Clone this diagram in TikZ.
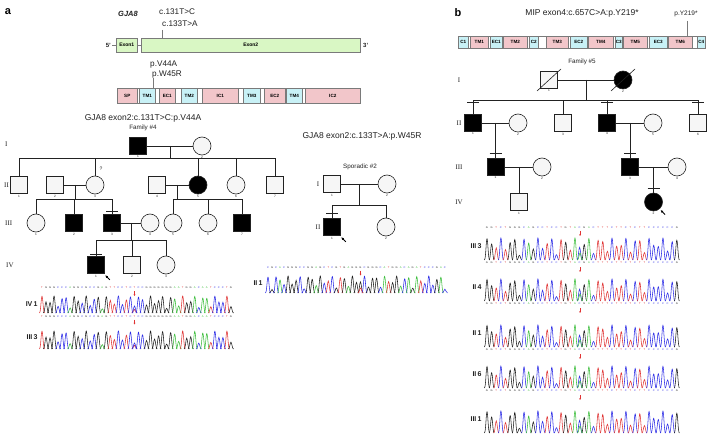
\documentclass[tikz,border=0pt]{standalone}
\usepackage{fontspec}
\setmainfont{Liberation Sans}
\newfontfamily\romanfam{Liberation Serif}
\usetikzlibrary{arrows.meta,calc}

\definecolor{exong}{HTML}{D9F7C4}
\definecolor{pinkseg}{HTML}{F2C6CA}
\definecolor{cyanseg}{HTML}{C8F1F6}
\definecolor{segline}{HTML}{7A7A7A}
\definecolor{baseA}{HTML}{3DBE3D}
\definecolor{baseC}{HTML}{2B2BE6}
\definecolor{baseG}{HTML}{1E1E1E}
\definecolor{baseT}{HTML}{E03434}
\definecolor{ink}{HTML}{222222}
\definecolor{openfill}{HTML}{F6F6F6}

\tikzset{
  ped/.style={line width=0.6pt, draw=ink},
  male/.style={ped, rectangle, minimum size=17pt, inner sep=0pt, fill=openfill},
  female/.style={ped, circle, minimum size=18pt, inner sep=0pt, fill=openfill},
  aff/.style={fill=black},
  pline/.style={line width=0.6pt, draw=ink},
  idnum/.style={font=\fontsize{3.2}{3.2}\selectfont, text=ink, inner sep=0.8pt},
  num/.style={label={[idnum]below:#1}},
  gen/.style={font=\romanfam\fontsize{7}{7}\selectfont, text=ink},
  title/.style={font=\fontsize{8.5}{8.5}\selectfont, text=ink},
  small/.style={font=\fontsize{6.3}{6.3}\selectfont, text=ink},
  exonbox/.style={draw=segline, fill=exong, minimum height=14pt, inner sep=0pt,
    font=\bfseries\fontsize{5}{5}\selectfont, line width=0.5pt, anchor=west},
  segbox/.style={draw=segline, minimum height=#1, inner sep=0pt,
    font=\bfseries\fontsize{4.6}{4.6}\selectfont, line width=0.6pt, anchor=west},
  pointer/.style={draw=segline, line width=1pt},
  seqlet/.style={font=\fontsize{2.6}{2.6}\selectfont, inner sep=0pt},
  tracelab/.style={font=\bfseries\fontsize{7}{7}\selectfont, text=ink, anchor=east},
  panel/.style={font=\bfseries\fontsize{11}{11}\selectfont},
  proband/.style={-{Latex[length=2.6pt,width=2.6pt]}, line width=0.9pt, draw=black},
}

% sequencing trace: first peak x, spacing, baseline y, peak height, phase, list of bases
\newcommand{\chrom}[6]{%
  \foreach \b [count=\i] in #6 {%
    \pgfmathsetmacro\px{#1+(\i-1)*#2}%
    \pgfmathsetmacro\ph{#4*(0.2+0.8*abs(sin(\i*67+#5)))}%
    \draw[draw=base\b, line width=0.55pt] (\px-2.6,#3) .. controls (\px-1.2,#3) and (\px-0.9,#3-\ph) .. (\px,#3-\ph) .. controls (\px+0.9,#3-\ph) and (\px+1.2,#3) .. (\px+2.6,#3);
  }}
% second peak at a heterozygous position: x, baseline, height, colour
\newcommand{\extrapeak}[4]{%
  \draw[draw=#4, line width=0.55pt] (#1-2.6,#2) .. controls (#1-1.2,#2) and (#1-0.9,#2-#3) .. (#1,#2-#3) .. controls (#1+0.9,#2-#3) and (#1+1.2,#2) .. (#1+2.6,#2);}
% base calls printed along a trace: first x, spacing, y, list of bases
\newcommand{\seqrow}[4]{%
  \foreach \b [count=\i] in #4 {\node[seqlet, text=base\b] at ({#1+(\i-1)*#2},#3) {\b};}}
% red arrow at the variant position
\newcommand{\mutmark}[2]{\draw[draw=baseT, line width=0.5pt, -{Stealth[length=1.8pt,width=1.8pt]}] (#1,#2) -- (#1,#2+5);}
% sequenced-individual bar above a symbol: node, distance above its top
\newcommand{\seqbar}[2]{\draw[pline] ($(#1.north)+(-6,-#2)$) -- ($(#1.north)+(6,-#2)$);}
% proband arrow at the lower right of a symbol
\newcommand{\probarrow}[1]{\draw[proband] ($(#1.south east)+(5,6)$) -- ($(#1.south east)+(0.5,1.5)$);}
% deceased stroke
\newcommand{\deceased}[1]{\draw[pline] ($(#1.center)+(-12,11)$) -- ($(#1.center)+(12,-11)$);}

\def\seqgja{T,G,G,G,C,C,C,A,G,G,C,G,C,C,G,A,G,T,T,C,C,T,C,T,C,C,G,G,G,G,G,G,G,A,A,T,G,G,A,C,A,A,T,C,C,C,T,G}
\def\seqspor{C,G,C,A,C,G,G,G,C,C,G,G,A,G,C,T,C,G,T,G,A,G,G,G,C,G,G,G,C,A,T,G,G,A,C,A,G,A,T,C,C,C,G,A,C}
\def\seqmip{G,G,T,C,T,G,G,G,C,A,G,C,C,T,C,C,T,G,T,A,C,G,A,C,T,T,T,C,T,T,C,T,C,T,T,C,C,C,C,C,C,G}

\begin{document}
\begin{tikzpicture}[x=1pt,y=-1pt]
\useasboundingbox (0,0) rectangle (708,435);
\fill[white] (0,0) rectangle (708,435);

%================ panel a: GJA8 ================
\node[panel] at (8,12) {a};
\node[font=\bfseries\itshape\fontsize{7.5}{7.5}\selectfont, text=ink] at (128,14) {GJA8};
\node[font=\fontsize{8.2}{8.2}\selectfont, text=ink, anchor=west, inner sep=0pt] at (159,12) {c.131T>C};
\node[font=\fontsize{8.2}{8.2}\selectfont, text=ink, anchor=west, inner sep=0pt] at (162,24) {c.133T>A};

% gene structure
\node[exonbox, minimum width=21pt] (ex1) at (116,45) {Exon1};
\node[exonbox, minimum width=219pt] (ex2) at (141,45) {Exon2};
\node[font=\bfseries\fontsize{6}{6}\selectfont, text=ink, anchor=east, inner sep=1pt] (five) at (112,45) {5'};
\node[font=\bfseries\fontsize{6}{6}\selectfont, text=ink, anchor=west, inner sep=1pt] (three) at (362,45) {3'};
\draw[segline, line width=0.5pt] (five.east) -- (ex1.west);
\draw[segline, line width=0.5pt] (ex1.east) -- (ex2.west);
\coordinate (cmut) at (162,30);
\draw[pointer] (cmut) -- (cmut |- ex2.north);

% protein domains
\node[font=\fontsize{8.2}{8.2}\selectfont, text=ink, anchor=west, inner sep=0pt] at (150,65) {p.V44A};
\node[font=\fontsize{8.2}{8.2}\selectfont, text=ink, anchor=west, inner sep=0pt] at (152,75) {p.W45R};
\draw[segline, line width=0.4pt] (117,88) rectangle (360,103);
\foreach \xa/\xb/\col/\lab in {117/137/pinkseg/SP, 139/155/cyanseg/TM1, 159/175/pinkseg/EC1,
  181/197/cyanseg/TM2, 202/238/pinkseg/IC1, 243/260/cyanseg/TM3, 264/285/pinkseg/EC2,
  286/302/cyanseg/TM4, 305/360/pinkseg/IC2}
  \node[segbox=15pt, fill=\col, minimum width={(\xb-\xa)*1pt}] (pa\lab) at (\xa,95.5) {\lab};
\coordinate (pmut) at (153,78);
\draw[pointer] (pmut) -- (pmut |- paTM1.north);

%---------------- Family #4 ----------------
\node[title] at (143,118) {GJA8 exon2:c.131T>C:p.V44A};
\node[small] at (143,128) {Family \#4};
\node[gen, anchor=west, inner sep=0pt] at (5,144) {I};
\node[gen, anchor=west, inner sep=0pt] at (4,185) {II};
\node[gen, anchor=west, inner sep=0pt] at (5,223) {III};
\node[gen, anchor=west, inner sep=0pt] at (6,265) {IV};

\node[male,aff,num=1] (f4I1) at (138,146) {};
\node[female,num=2] (f4I2) at (202,146) {};
\draw[pline] (f4I1) -- (f4I2);
\coordinate (f4m1) at (170,146);
\coordinate (f4s1) at (170,158);
\draw[pline] (f4m1) -- (f4s1);

\node[male,num=1] (f4II1) at (19,185) {};
\node[male,num=2] (f4II2) at (55,185) {};
\node[female,num=3] (f4II3) at (95,185) {};
\node[male,num=4] (f4II4) at (157,185) {};
\node[female,aff,num=5] (f4II5) at (198,185) {};
\node[female,num=6] (f4II6) at (236,185) {};
\node[male,num=7] (f4II7) at (275,185) {};
\node[font=\fontsize{5}{5}\selectfont, text=ink] at (101,169) {?};
\draw[pline] (f4II1.north |- f4s1) -- (f4II7.north |- f4s1);
\foreach \n in {f4II1,f4II3,f4II5,f4II6,f4II7} \draw[pline] (\n.north) -- (\n.north |- f4s1);
\draw[pline] (f4II2) -- (f4II3);
\draw[pline] (f4II4) -- (f4II5);
\coordinate (f4m2) at (75,185);   \coordinate (f4s2) at (75,199);
\coordinate (f4m3) at (177.5,185); \coordinate (f4s3) at (177.5,199);
\draw[pline] (f4m2) -- (f4s2);
\draw[pline] (f4m3) -- (f4s3);

\node[female,num=1] (f4III1) at (36,223) {};
\node[male,aff,num=2] (f4III2) at (74,223) {};
\node[male,aff,num=3] (f4III3) at (112,223) {};
\node[female,num=4] (f4III4) at (150,223) {};
\node[female,num=5] (f4III5) at (173,223) {};
\node[female,num=6] (f4III6) at (208,223) {};
\node[male,aff,num=7] (f4III7) at (242,223) {};
\draw[pline] (f4III1.north |- f4s2) -- (f4III3.north |- f4s2);
\foreach \n in {f4III1,f4III2,f4III3} \draw[pline] (\n.north) -- (\n.north |- f4s2);
\draw[pline] (f4III5.north |- f4s3) -- (f4III7.north |- f4s3);
\foreach \n in {f4III5,f4III6,f4III7} \draw[pline] (\n.north) -- (\n.north |- f4s3);
\seqbar{f4III3}{2.8}
\draw[pline] (f4III3) -- (f4III4);
\coordinate (f4m4) at (131,223); \coordinate (f4s4) at (131,240);
\draw[pline] (f4m4) -- (f4s4);

\node[male,aff,num=1] (f4IV1) at (96,265) {};
\node[male,num=2] (f4IV2) at (132,265) {};
\node[female,num=3] (f4IV3) at (166,265) {};
\draw[pline] (f4IV1.north |- f4s4) -- (f4IV3.north |- f4s4);
\foreach \n in {f4IV1,f4IV2,f4IV3} \draw[pline] (\n.north) -- (\n.north |- f4s4);
\seqbar{f4IV1}{2.2}
\probarrow{f4IV1}

% traces, family #4
\seqrow{42}{4.02}{288}{\seqgja}
\chrom{42}{4.02}{313}{17}{11}{\seqgja}
\extrapeak{134.5}{313}{7}{baseC}
\seqrow{42}{4.02}{316.5}{\seqgja}
\mutmark{134.5}{291}
\mutmark{134.5}{319.5}
\chrom{42}{4.02}{349}{18}{11}{\seqgja}
\extrapeak{134.5}{349}{6}{baseC}
\node[tracelab] at (41,304) {IV\,1};
\node[tracelab] at (41,337) {III\,3};

%---------------- Sporadic #2 ----------------
\node[title] at (362,136) {GJA8 exon2:c.133T>A:p.W45R};
\node[small] at (360,167) {Sporadic \#2};
\node[gen] at (318,184) {I};
\node[gen] at (318,227) {II};
\node[male,num=1] (spI1) at (332,184) {};
\node[female,num=2] (spI2) at (387,184) {};
\draw[pline] (spI1) -- (spI2);
\coordinate (spm) at (359.5,184); \coordinate (sps) at (359.5,205);
\draw[pline] (spm) -- (sps);
\node[male,aff,num=1] (spII1) at (332,227) {};
\node[female,num=2] (spII2) at (386,227) {};
\draw[pline] (spII1.north |- sps) -- (spII2.north |- sps);
\foreach \n in {spII1,spII2} \draw[pline] (\n.north) -- (\n.north |- sps);
\seqbar{spII1}{4.5}
\probarrow{spII1}

\seqrow{268}{4.02}{268}{\seqspor}
\mutmark{360.5}{270.5}
\chrom{268}{4.02}{293}{17}{47}{\seqspor}
\extrapeak{360.5}{293}{5}{baseT}
\node[tracelab] at (266,283) {II\,1};

%================ panel b: MIP ================
\node[panel] at (458,13) {b};
\node[title] at (582,13) {MIP exon4:c.657C>A:p.Y219*};
\node[font=\fontsize{6.5}{6.5}\selectfont, text=ink] at (686,14) {p.Y219*};
\draw[segline, line width=0.4pt] (458,36) rectangle (705,48);
\foreach \xa/\xb/\col/\lab in {458/468/cyanseg/C1, 470/488/pinkseg/TM1, 490/502/cyanseg/EC1,
  503/527/pinkseg/TM2, 529/538/cyanseg/C2, 546/568/pinkseg/TM3, 570/587/cyanseg/EC2,
  588/613/pinkseg/TM4, 615/622/cyanseg/C3, 623/647/pinkseg/TM5, 649/667/cyanseg/EC3,
  668/692/pinkseg/TM6, 697/705/cyanseg/C4}
  \node[segbox=12pt, fill=\col, minimum width={(\xb-\xa)*1pt}] (pb\lab) at (\xa,42) {\lab};
\coordinate (bmut) at (687,21);
\draw[segline, line width=0.6pt] (bmut) -- (bmut |- pbTM6.north);

%---------------- Family #5 ----------------
\node[small] at (582,62) {Family \#5};
\node[gen] at (459,80) {I};
\node[gen] at (459,123) {II};
\node[gen] at (459,167) {III};
\node[gen] at (459,202) {IV};

\node[male,num=1] (f5I1) at (549,80) {};
\node[female,aff,num=2] (f5I2) at (623,80) {};
\deceased{f5I1}
\deceased{f5I2}
\draw[pline] (f5I1) -- (f5I2);
\coordinate (f5m1) at (586,80); \coordinate (f5s1) at (586,100);
\draw[pline] (f5m1) -- (f5s1);

\node[male,aff,num=1] (f5II1) at (473,123) {};
\node[female,num=2] (f5II2) at (518,123) {};
\node[male,num=3] (f5II3) at (563,123) {};
\node[male,aff,num=4] (f5II4) at (607,123) {};
\node[female,num=5] (f5II5) at (653,123) {};
\node[male,num=6] (f5II6) at (698,123) {};
\draw[pline] (f5II1.north |- f5s1) -- (f5II6.north |- f5s1);
\foreach \n in {f5II1,f5II3,f5II4,f5II6} \draw[pline] (\n.north) -- (\n.north |- f5s1);
\foreach \n in {f5II1,f5II4,f5II6} {\seqbar{\n}{11.5}}
\draw[pline] (f5II1) -- (f5II2);
\draw[pline] (f5II4) -- (f5II5);

\node[male,aff,num=1] (f5III1) at (495.5,167) {};
\node[female,num=2] (f5III2) at (542,167) {};
\node[male,aff,num=3] (f5III3) at (630,167) {};
\node[female,num=4] (f5III4) at (677,167) {};
\coordinate (f5m2) at (495.5,123);
\coordinate (f5m3) at (630,123);
\draw[pline] (f5m2) -- (f5III1);
\draw[pline] (f5m3) -- (f5III3);
\seqbar{f5III1}{5}
\seqbar{f5III3}{5}
\draw[pline] (f5III1) -- (f5III2);
\draw[pline] (f5III3) -- (f5III4);

\node[male,num=1] (f5IV1) at (519,202) {};
\node[female,aff,num=2] (f5IV2) at (653.5,202) {};
\coordinate (f5m4) at (519,167);
\coordinate (f5m5) at (653.5,167);
\draw[pline] (f5m4) -- (f5IV1);
\draw[pline] (f5m5) -- (f5IV2);
\seqbar{f5IV2}{4}
\probarrow{f5IV2}

% traces, family #5
\seqrow{487}{4.63}{228}{\seqmip}
\mutmark{580}{231}
\foreach \yb/\lab/\ph in {260/III\,3/5, 301/II\,4/8, 347/II\,1/8, 388/II\,6/8, 433/III\,1/5} {
  \chrom{487}{4.63}{\yb}{22}{\ph}{\seqmip}
  \extrapeak{580}{\yb}{7}{baseA}
  \node[tracelab] at (485,\yb-14) {\lab};
}
\foreach \yl in {263,304,350,391} {
  \seqrow{487}{4.63}{\yl}{\seqmip}
  \mutmark{580}{\yl+4}
}
\end{tikzpicture}
\end{document}
